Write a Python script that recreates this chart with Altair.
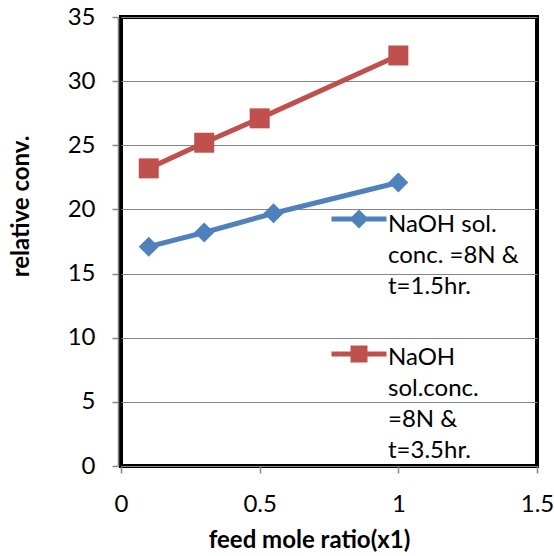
import altair as alt
import pandas as pd

# Relative conversion vs. feed mole ratio for two reaction times
ratio_short = [0.1, 0.3, 0.55, 1.0]
conv_short = [17.1, 18.2, 19.7, 22.1]
ratio_long = [0.1, 0.3, 0.5, 1.0]
conv_long = [23.2, 25.2, 27.1, 32.0]

# Legend texts, "|" marks a line break
series_labels = ["NaOH sol.|conc. =8N &|t=1.5hr.", "NaOH|sol.conc.|=8N &|t=3.5hr."]
series_colors = ["#4F81BD", "#C0504D"]
x_ticks = [0, 0.5, 1, 1.5]
y_ticks = [0, 5, 10, 15, 20, 25, 30, 35]

df = pd.DataFrame({
    "ratio": ratio_short + ratio_long,
    "conv": conv_short + conv_long,
    "series": [series_labels[0]] * len(ratio_short) + [series_labels[1]] * len(ratio_long),
})

FONT = "Lato"
GRAY = "#868686"

x_enc = alt.X(
    "ratio:Q",
    scale=alt.Scale(domain=[0, 1.5], nice=False, zero=False),
    axis=alt.Axis(
        values=x_ticks, format="~g", title="feed mole ratio(x1)", grid=False,
        domain=False, tickColor=GRAY, tickSize=7, tickWidth=1.5,
        labelFont=FONT, labelFontSize=24, labelColor="black", labelPadding=19,
        labelFlush=False, labelOverlap=False,
        titleFont=FONT, titleFontSize=24, titleFontWeight="bold", titleColor="black",
        titleX=188, titleY=74, titleAlign="center", titleBaseline="middle",
    ),
)
y_enc = alt.Y(
    "conv:Q",
    scale=alt.Scale(domain=[0, 35], nice=False),
    axis=alt.Axis(
        values=y_ticks, title="relative conv.", grid=True, gridColor=GRAY, gridWidth=1,
        domain=True, domainColor=GRAY, domainWidth=1.5, offset=3,
        tickColor=GRAY, tickSize=6, tickWidth=1.5,
        labelFont=FONT, labelFontSize=24, labelColor="black", labelPadding=17,
        labelFlush=False, labelOverlap=False,
        titleFont=FONT, titleFontSize=24, titleFontWeight="bold", titleColor="black",
        titleX=-97, titleY=189, titleAngle=270, titleAlign="center", titleBaseline="middle",
    ),
)


def legend_symbol(marker, dy):
    # line segment through a marker, shifted down by dy (symbol units)
    line = f"M-5.5,{dy}H5.5"
    if marker == "diamond":
        mark = f"M0,{dy - 1.2}L1.2,{dy}L0,{dy + 1.2}L-1.2,{dy}Z"
    else:
        mark = f"M-1.2,{dy - 1.2}H1.2V{dy + 1.2}H-1.2Z"
    return line + mark


def series_layer(label, color, shape, legend_y, sym_dy):
    base = alt.Chart(df).transform_filter(alt.datum.series == label)
    color_enc = alt.Color(
        "series:N",
        scale=alt.Scale(domain=[label], range=[color]),
        legend=alt.Legend(
            title=None, orient="none", legendX=226, legendY=legend_y, padding=0,
            symbolType=legend_symbol(shape, sym_dy), symbolSize=100, symbolStrokeWidth=5,
            symbolFillColor=color, symbolStrokeColor=color,
            labelExpr="split(datum.label, '|')", labelFont=FONT, labelFontSize=24,
            labelColor="black", labelOffset=17, labelLimit=400,
            labelBaseline="top",
        ),
    )
    line = base.mark_line(strokeWidth=5).encode(x=x_enc, y=y_enc, color=color_enc)
    pts = base.mark_point(shape=shape, size=400, filled=True, opacity=1).encode(
        x=x_enc, y=y_enc, color=color_enc
    )
    return alt.layer(line, pts)


chart = (
    alt.layer(
        series_layer(series_labels[0], series_colors[0], "diamond", 184, 1.2),
        series_layer(series_labels[1], series_colors[1], "square", 317, 1.6),
    )
    .resolve_scale(color="independent")
    .properties(
        width=416, height=449,
        autosize=alt.AutoSizeParams(type="none"),
        padding={"left": 121, "top": 17, "right": 17, "bottom": 90},
    )
    .configure(
        background="white",
        view=alt.ViewConfig(stroke="black", strokeWidth=4),
        style={"guide-label": {"lineHeight": 31}},
    )
)

chart.save("out.html", embed_options={"renderer": "svg", "actions": False})
